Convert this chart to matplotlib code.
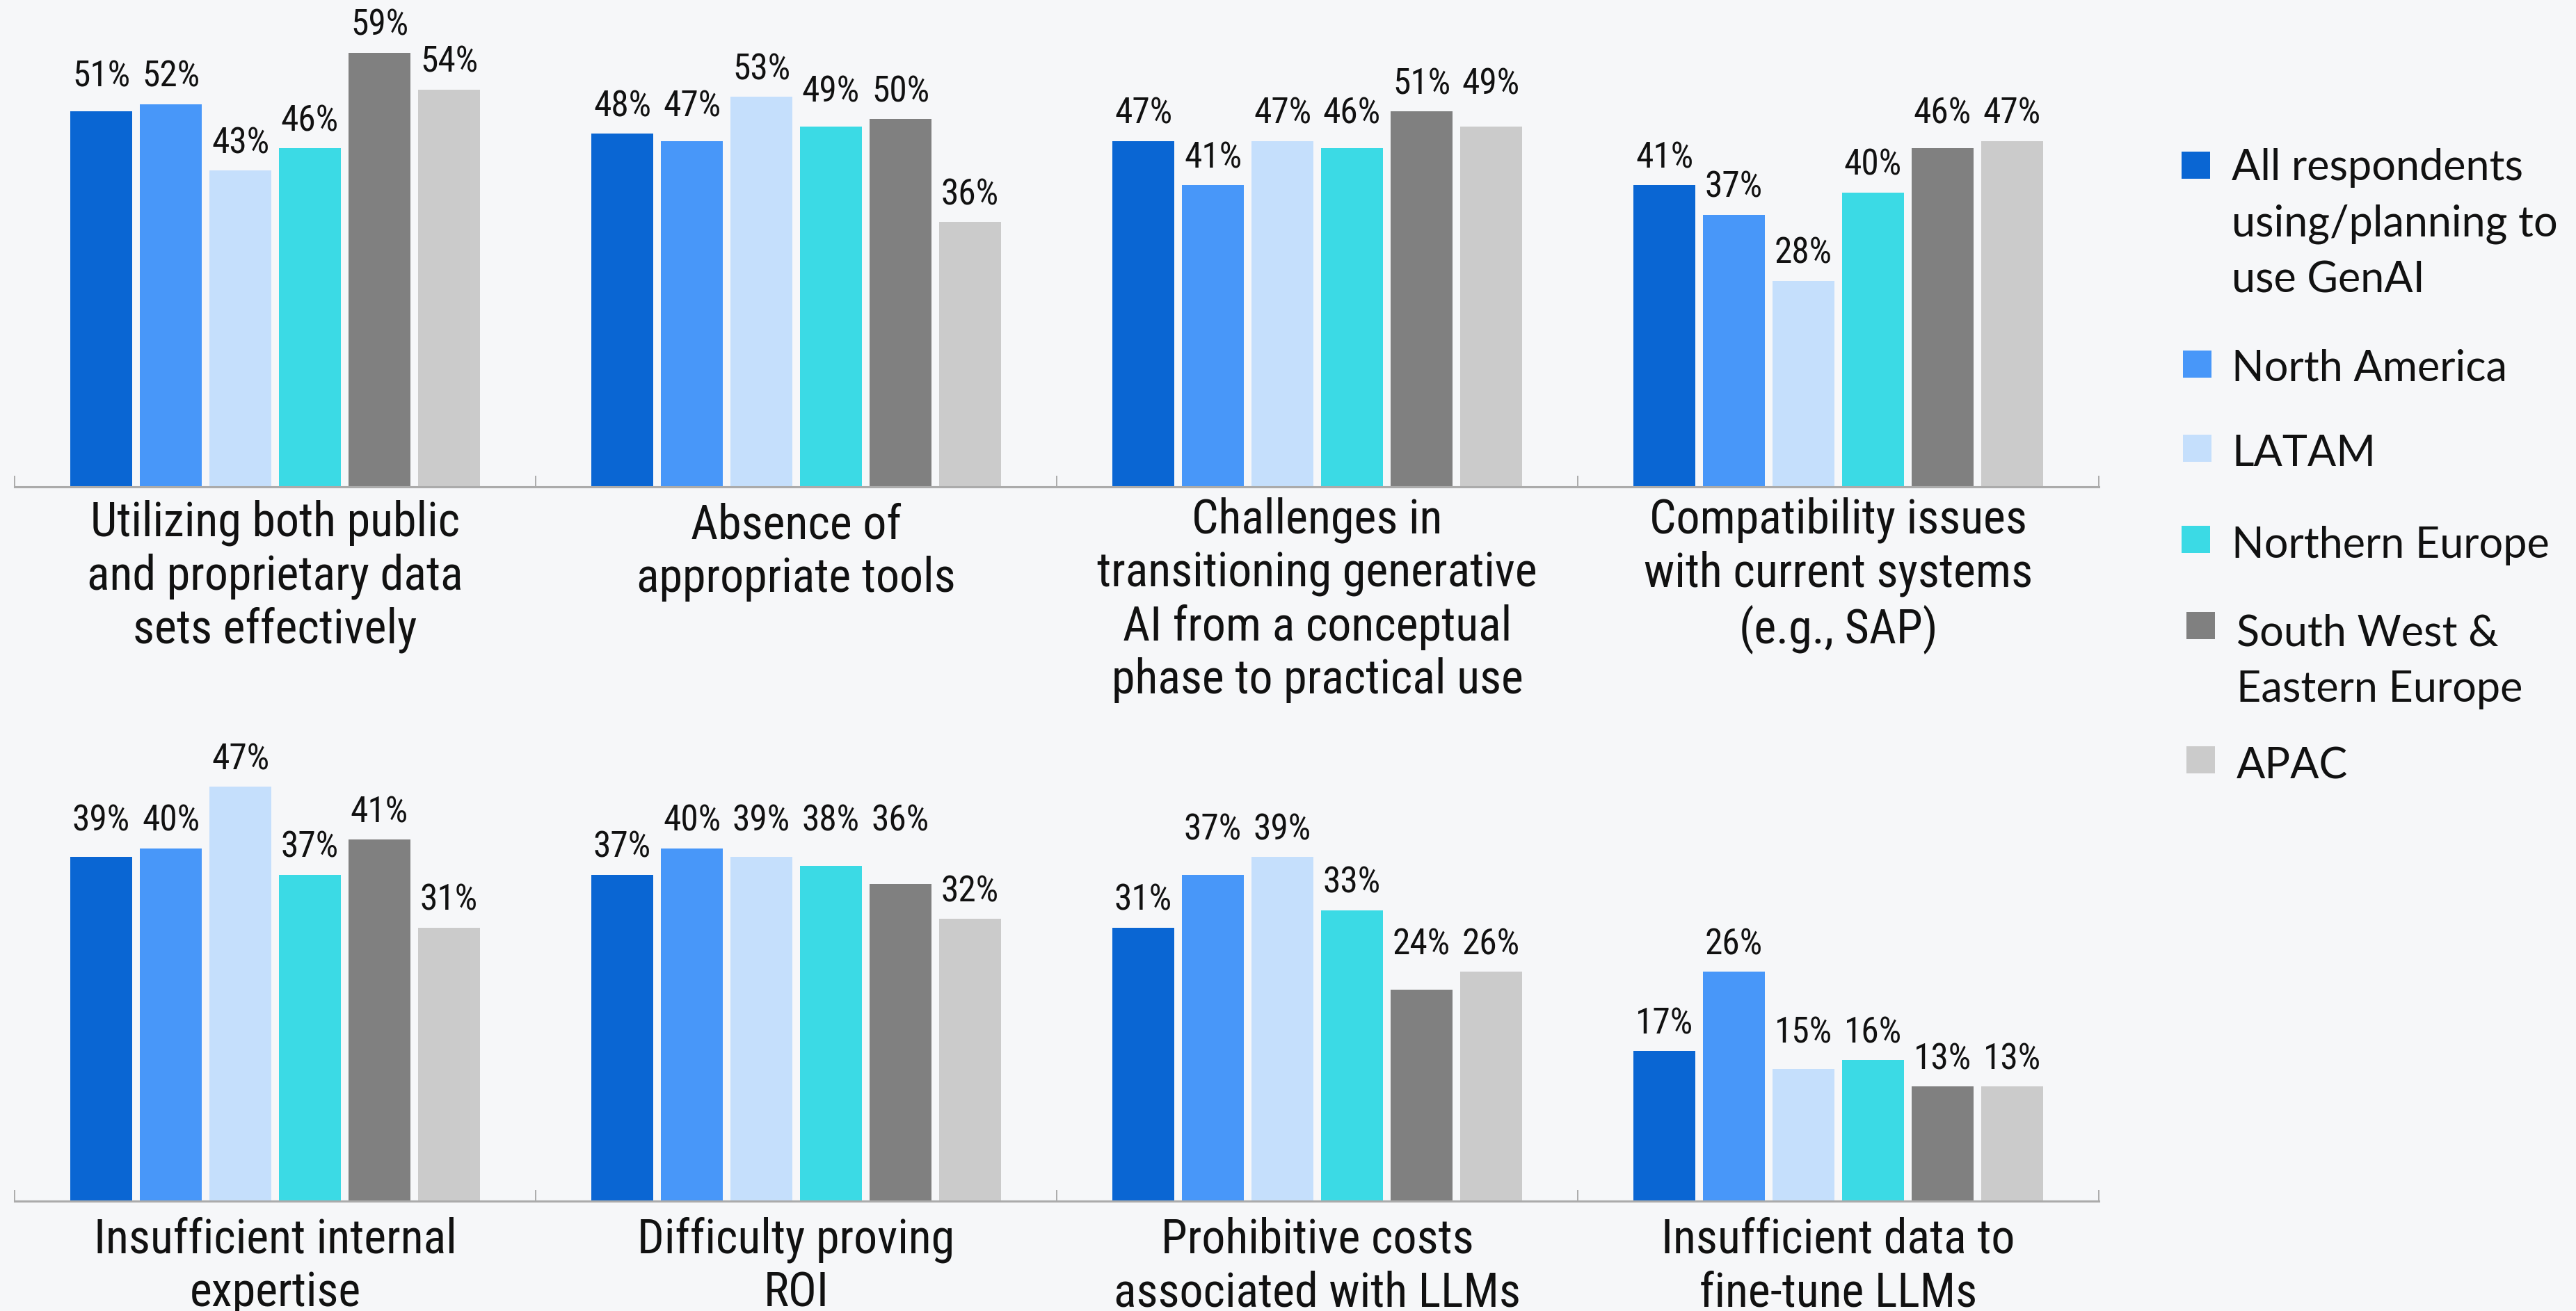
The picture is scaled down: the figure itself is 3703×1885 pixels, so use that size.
import matplotlib
matplotlib.use("Agg")
import matplotlib.pyplot as plt
from matplotlib import font_manager
from matplotlib.patches import Rectangle

# ---------------- data ----------------
categories_top = [
    "Utilizing both public\nand proprietary data\nsets effectively",
    "Absence of\nappropriate tools",
    "Challenges in\ntransitioning generative\nAI from a conceptual\nphase to practical use",
    "Compatibility issues\nwith current systems\n(e.g., SAP)",
]
categories_bottom = [
    "Insufficient internal\nexpertise",
    "Difficulty proving\nROI",
    "Prohibitive costs\nassociated with LLMs",
    "Insufficient data to\nfine-tune LLMs",
]
series_names = [
    "All respondents\nusing/planning to\nuse GenAI",
    "North America",
    "LATAM",
    "Northern Europe",
    "South West &\nEastern Europe",
    "APAC",
]
# values per series: 4 top-row categories then 4 bottom-row categories
all_respondents = [51, 48, 47, 41, 39, 37, 31, 17]
north_america = [52, 47, 41, 37, 40, 40, 37, 26]
latam = [43, 53, 47, 28, 47, 39, 39, 15]
northern_europe = [46, 49, 46, 40, 37, 38, 33, 16]
sw_eastern_europe = [59, 50, 51, 46, 41, 36, 24, 13]
apac = [54, 36, 49, 47, 31, 32, 26, 13]

series_values = [all_respondents, north_america, latam,
                 northern_europe, sw_eastern_europe, apac]
colors = ["#0A66D3", "#4897F9", "#C5DFFC", "#3BDAE5", "#808080", "#CBCBCB"]

# ---------------- fonts ----------------
names = {f.name for f in font_manager.fontManager.ttflist}
cond_font = "Roboto"
for cand in ["Roboto Condensed", "Liberation Sans Narrow", "Open Sans Condensed",
             "Noto Sans Condensed", "DejaVu Sans Condensed"]:
    if cand in names:
        cond_font = cand
        break
legend_font = "Lato" if "Lato" in names else "DejaVu Sans"

BG = "#F6F7F9"
W, H = 3703, 1885
DPI = 100
fig = plt.figure(figsize=(W / DPI, H / DPI), dpi=DPI, facecolor=BG)


def fx(px):
    return px / W


def fy(py):
    return 1 - py / H


PX2PT = 72 / DPI
left_px, right_px = 21, 3017
rows = [
    # (categories, baseline_px, top_px, px per percent)
    (categories_top, 700, 20, 10.58, slice(0, 4)),
    (categories_bottom, 1727, 1040, 12.68, slice(4, 8)),
]

pitch = 0.1335
bar_w = 0.12
n = len(series_values)
CAT_SPACING = 73  # px between category label lines
CAT_FIRST = 78    # px from axis to first baseline

for cats, base_px, top_px, ppp, sl in rows:
    ax = fig.add_axes([fx(left_px), fy(base_px), fx(right_px - left_px),
                       (base_px - top_px) / H])
    ax.set_facecolor(BG)
    ax.set_xlim(-0.5, len(cats) - 0.5)
    ax.set_ylim(0, (base_px - top_px) / ppp)
    for s in ["top", "right", "left"]:
        ax.spines[s].set_visible(False)
    ax.spines["bottom"].set_color("#ABABAB")
    ax.spines["bottom"].set_linewidth(2.2)
    ax.set_yticks([])
    ax.set_xticks([])
    ax.set_xticks([i - 0.5 for i in range(len(cats) + 1)], minor=True)
    ax.tick_params(axis="x", which="minor", direction="in", length=11.5,
                   width=1.4, color="#ABABAB")

    for g in range(len(cats)):
        vals = [series_values[j][sl][g] for j in range(n)]
        xs = [g + (j - (n - 1) / 2) * pitch for j in range(n)]
        ax.bar(xs, vals, width=bar_w, color=colors, zorder=2)
        # label rows: consecutive labels with close values share a height
        label_y = list(vals)
        j = 0
        while j < n:
            k = j
            while k + 1 < n and abs(vals[k + 1] - vals[k]) <= 2:
                k += 1
            top = max(vals[j:k + 1])
            for m in range(j, k + 1):
                label_y[m] = top
            j = k + 1
        for x, v, ly in zip(xs, vals, label_y):
            ax.annotate(f"{v}%", xy=(x, ly), xytext=(0, 25 * PX2PT),
                        textcoords="offset points", ha="center", va="baseline",
                        fontsize=37, family=cond_font, color="#111111")
        nl = cats[g].count("\n")
        ax.annotate(cats[g], xy=(g, 0), xycoords=("data", "axes fraction"),
                    xytext=(0, -(CAT_FIRST + nl * CAT_SPACING) * PX2PT),
                    textcoords="offset points",
                    ha="center", va="baseline", multialignment="center",
                    fontsize=49, family=cond_font, color="#111111",
                    linespacing=1.2, annotation_clip=False)

# ---------------- legend ----------------
LEG_SPACING = 79
legend_entries = [
    # (square x, square y top, text x, first baseline)
    (3136, 218, 3208, 262),
    (3138, 504, 3208, 547),
    (3138, 625, 3208, 670),
    (3136, 756, 3208, 802),
    (3143, 880, 3215, 930),
    (3143, 1073, 3215, 1119),
]
for (sx, sy, tx, tb), name, col in zip(legend_entries, series_names, colors):
    fig.add_artist(Rectangle((fx(sx), fy(sy + 39)), 41 / W, 39 / H,
                             transform=fig.transFigure, facecolor=col,
                             edgecolor="none"))
    nl = name.count("\n")
    fig.text(fx(tx), fy(tb + nl * LEG_SPACING), name, ha="left", va="baseline",
             fontsize=44, family=legend_font, color="#111111", linespacing=1.51)

fig.savefig("out.png", dpi=DPI, facecolor=BG)
